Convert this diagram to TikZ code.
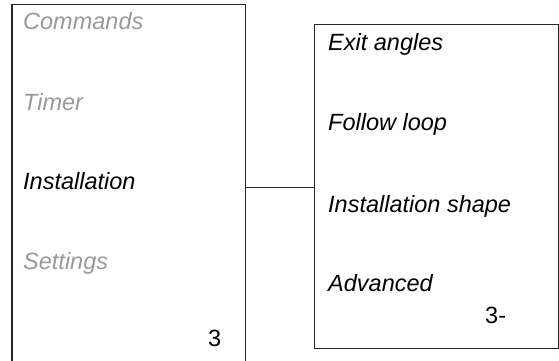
\documentclass[tikz,border=0pt]{standalone}
\usepackage{fontspec}
\setmainfont{Liberation Sans}
\begin{document}
\begin{tikzpicture}[x=1pt,y=-1pt,
  item/.style={anchor=base west,inner sep=0pt,font=\fontsize{23.5}{28}\selectfont\itshape},
  dim/.style={item,text=black!40},
  num/.style={anchor=base west,inner sep=0pt,font=\fontsize{23.5}{28}\selectfont},
  frame/.style={draw=black!85,line width=1.4pt},
  link/.style={draw=black!85,line width=1pt}]
\useasboundingbox (0,0) rectangle (559,361);
% left box (open at bottom)
\node[minimum width=233pt,minimum height=356.5pt,inner sep=0pt,anchor=north west] (lbox) at (12,4.5) {};
\draw[frame] (lbox.south west) -- (lbox.north west) -- (lbox.north east) -- (lbox.south east);
% right box
\node[frame,minimum width=244pt,minimum height=324pt,inner sep=0pt,anchor=north west] (rbox) at (314,24) {};
% left items
\node[dim] (cmd) at (23,30) {Commands};
\node[dim] (tim) at (23,110) {Timer};
\node[item] (ins) at (23,189) {Installation};
\node[dim] (set) at (23,269) {Settings};
\node[num] (n3) at (208,346) {3};
% right items
\node[item] (exa) at (328,51) {Exit angles};
\node[item] (fol) at (328,130) {Follow loop};
\node[item] (ish) at (328,212) {Installation shape};
\node[item] (adv) at (328,291) {Advanced};
\node[num] (n3m) at (485,323) {3-};
% connector
\coordinate (c1) at (245,187);
\draw[link] (c1) -- (c1 -| rbox.west);
\end{tikzpicture}
\end{document}
